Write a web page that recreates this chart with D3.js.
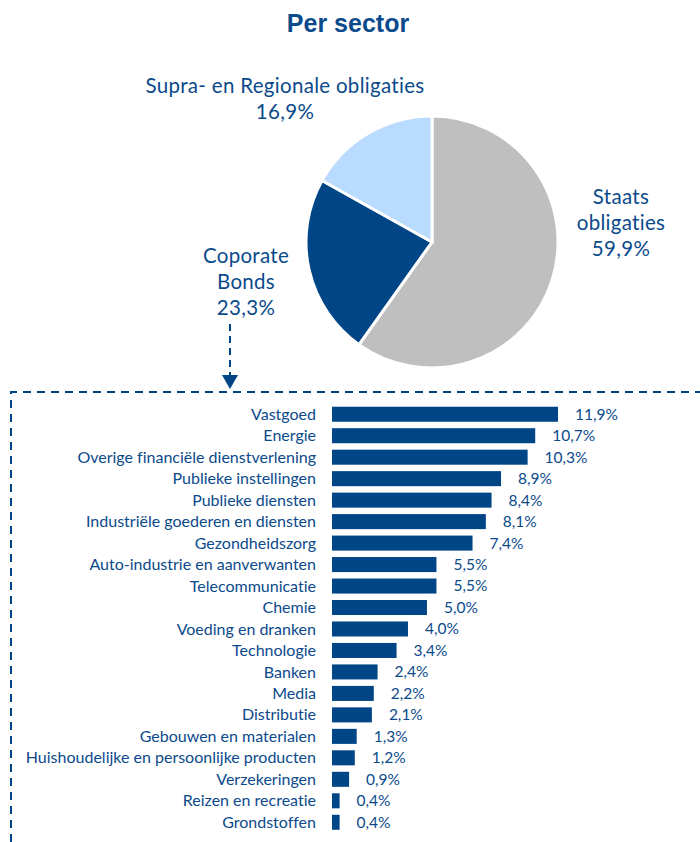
<!DOCTYPE html>
<meta charset="utf-8">
<style>
body { margin: 0; background: #fff; }
text { font-family: Lato, "Open Sans", sans-serif; fill: #0b4a8b; font-variant-ligatures: none; }
</style>
<body>
<script src="https://d3js.org/d3.v7.min.js"></script>
<script>

// pie data
var pieNames = ["Staats obligaties", "Coporate Bonds", "Supra- en Regionale obligaties"];
var pieValues = [59.9, 23.3, 16.9];
var pieColors = ["#bfbfbf", "#004586", "#b8dbff"];

// bar data
var sectors = ["Vastgoed", "Energie", "Overige financiële dienstverlening", "Publieke instellingen",
  "Publieke diensten", "Industriële goederen en diensten", "Gezondheidszorg",
  "Auto-industrie en aanverwanten", "Telecommunicatie", "Chemie", "Voeding en dranken",
  "Technologie", "Banken", "Media", "Distributie", "Gebouwen en materialen",
  "Huishoudelijke en persoonlijke producten", "Verzekeringen", "Reizen en recreatie", "Grondstoffen"];
var sectorValues = [11.9, 10.7, 10.3, 8.9, 8.4, 8.1, 7.4, 5.5, 5.5, 5.0, 4.0, 3.4, 2.4, 2.2, 2.1, 1.3, 1.2, 0.9, 0.4, 0.4];

var W = 700, H = 842;
var blue = "#004586";
var fmt = function(v) { return d3.format(".1f")(v).replace(".", ",") + "%"; };

var svg = d3.select("body").append("svg")
    .attr("width", W)
    .attr("height", H);

// title
svg.append("text")
    .attr("x", 348).attr("y", 32)
    .attr("text-anchor", "middle")
    .style("font-family", "Arial, 'Liberation Sans', sans-serif")
    .style("font-weight", "bold")
    .style("font-size", "25px")
    .text("Per sector");

// pie
var cx = 432, cy = 242, r = 126;
var pie = d3.pie().sort(null).value(function(d) { return d; });
var arc = d3.arc().innerRadius(0).outerRadius(r);

svg.append("g")
    .attr("transform", "translate(" + cx + "," + cy + ")")
  .selectAll("path")
  .data(pie(pieValues))
  .enter().append("path")
    .attr("d", arc)
    .attr("fill", function(d, i) { return pieColors[i]; })
    .attr("stroke", "#fff")
    .attr("stroke-width", 3);

// pie labels
var pieLabels = [
  {lines: ["Staats", "obligaties", fmt(pieValues[0])], x: 621, y: 204},
  {lines: ["Coporate", "Bonds", fmt(pieValues[1])], x: 246, y: 263},
  {lines: ["Supra- en Regionale obligaties", fmt(pieValues[2])], x: 285, y: 93}
];
pieLabels.forEach(function(l) {
  var t = svg.append("text")
      .attr("text-anchor", "middle")
      .style("font-size", "20.5px")
      .style("letter-spacing", "0.3px");
  l.lines.forEach(function(s, i) {
    t.append("tspan").attr("x", l.x).attr("y", l.y + i * 26).text(s);
  });
});

// dashed box and arrow
svg.append("path")
    .attr("d", "M11,842 V392 H700")
    .attr("fill", "none")
    .attr("stroke", blue)
    .attr("stroke-width", 2)
    .attr("stroke-dasharray", "8,6");

svg.append("line")
    .attr("x1", 230).attr("y1", 324)
    .attr("x2", 230).attr("y2", 378)
    .attr("stroke", blue)
    .attr("stroke-width", 2)
    .attr("stroke-dasharray", "7,5");
svg.append("path")
    .attr("d", "M222,375 L238,375 L230,389 Z")
    .attr("fill", blue);

// bars
var x = d3.scaleLinear()
    .domain([0, 11.9])
    .range([332, 558]);

var y = d3.scaleBand()
    .domain(sectors)
    .range([403.5, 833])
    .paddingInner(0.3)
    .paddingOuter(0.15);

var rows = svg.append("g").selectAll("g")
  .data(sectors)
  .enter().append("g");

rows.append("rect")
    .attr("x", x(0))
    .attr("y", function(d) { return y(d); })
    .attr("width", function(d, i) { return x(sectorValues[i]) - x(0); })
    .attr("height", y.bandwidth())
    .attr("fill", blue);

rows.append("text")
    .attr("x", 316)
    .attr("y", function(d) { return y(d) + y.bandwidth() / 2; })
    .attr("dy", "0.35em")
    .attr("text-anchor", "end")
    .style("font-size", "16px")
    .text(function(d) { return d; });

rows.append("text")
    .attr("x", function(d, i) { return x(sectorValues[i]) + 17; })
    .attr("y", function(d) { return y(d) + y.bandwidth() / 2; })
    .attr("dy", "0.35em")
    .style("font-size", "15.5px")
    .text(function(d, i) { return fmt(sectorValues[i]); });

</script>
</body>
